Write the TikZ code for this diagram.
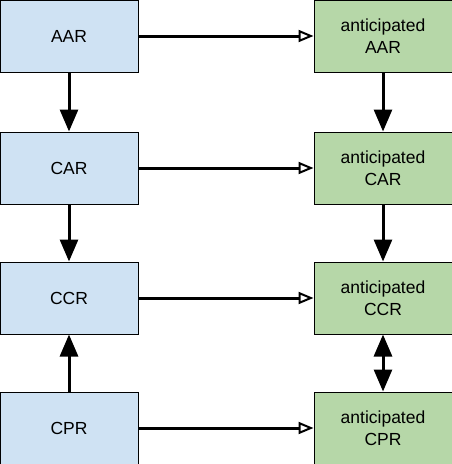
\documentclass[tikz,border=0pt]{standalone}
\usepackage{fontspec}
\setmainfont{Liberation Sans}
\usetikzlibrary{arrows.meta,positioning}

\definecolor{actualblue}{HTML}{CFE2F3}
\definecolor{anticgreen}{HTML}{B6D7A8}

\tikzset{
  ratebox/.style={draw=black,line width=1pt,minimum width=138pt,minimum height=72pt,
    inner sep=0pt,align=center,font=\fontsize{17.5}{22}\selectfont},
  actual/.style={ratebox,fill=actualblue},
  anticipated/.style={ratebox,fill=anticgreen},
  maps/.style={line width=3pt,-{Triangle[open,length=15pt,width=12pt,line width=2pt]}},
  feeds/.style={line width=3pt,-{Triangle[length=22pt,width=18pt]}},
  links/.style={line width=3pt,{Triangle[length=22pt,width=18pt]}-{Triangle[length=22pt,width=18pt]}}
}

\begin{document}
\begin{tikzpicture}[x=1pt,y=1pt]
    \useasboundingbox (0,0) rectangle (452,-464);

    % Actual ratios
    \node[actual] (aar) at (69,-36) {AAR};
    \node[actual] (car) at (69,-168) {CAR};
    \node[actual] (ccr) at (69,-298) {CCR};
    \node[actual] (cpr) at (69,-428) {CPR};

    % Anticipated ratios
    \node[anticipated] (aaar) at (383,-36) {anticipated\\AAR};
    \node[anticipated] (acar) at (383,-168) {anticipated\\CAR};
    \node[anticipated] (accr) at (383,-298) {anticipated\\CCR};
    \node[anticipated] (acpr) at (383,-428) {anticipated\\CPR};

    %% Across
    \draw[maps] (aar) -- (aaar);
    \draw[maps] (car) -- (acar);
    \draw[maps] (ccr) -- (accr);
    \draw[maps] (cpr) -- (acpr);

    %% Down the columns
    \draw[feeds] (aar) -- (car);
    \draw[feeds] (car) -- (ccr);
    \draw[feeds] (cpr) -- (ccr);
    \draw[feeds] (aaar) -- (acar);
    \draw[feeds] (acar) -- (accr);
    \draw[links] (accr) -- (acpr);
  \end{tikzpicture}
\end{document}
